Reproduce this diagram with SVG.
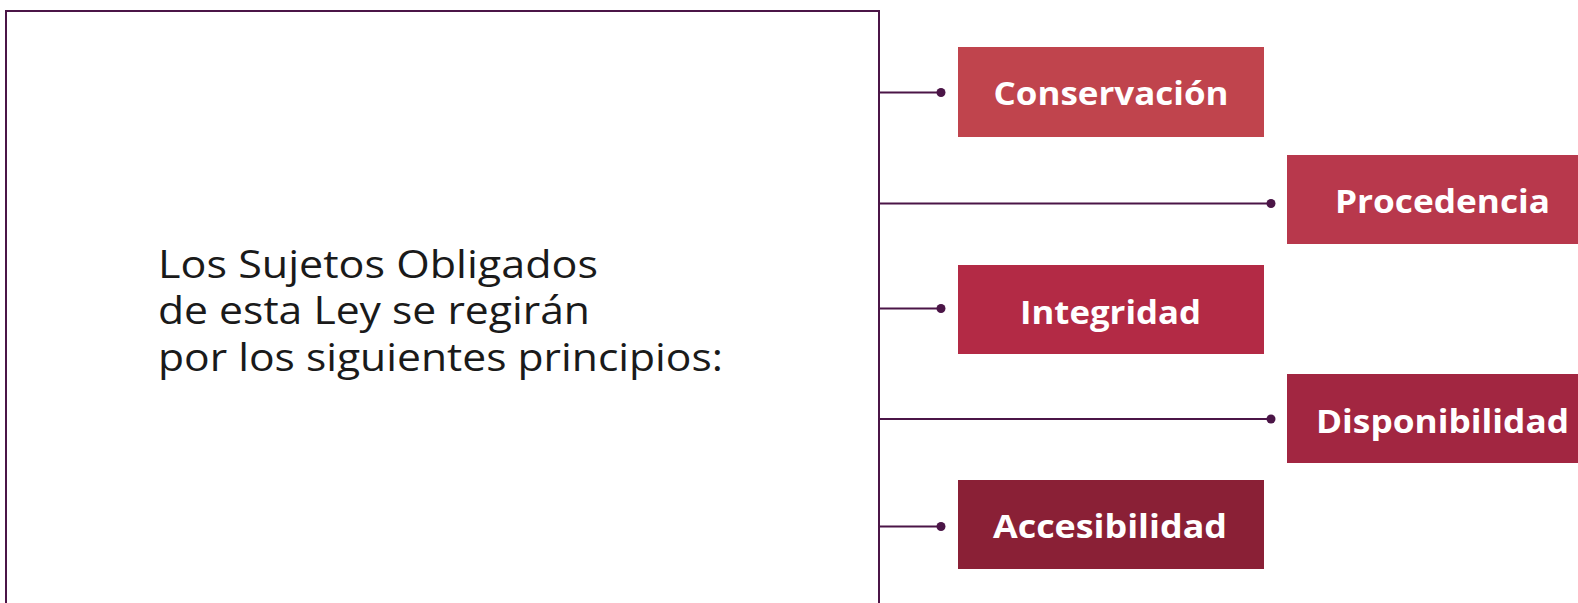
<svg xmlns="http://www.w3.org/2000/svg" width="1578" height="603" viewBox="0 0 1578 603">
<style>
.ln{stroke:#4B1547;stroke-width:2;fill:none}
.dot{fill:#4B1547}
.lbl{font-family:"Open Sans","Noto Sans","Liberation Sans",sans-serif;font-weight:700;font-size:32px;fill:#ffffff;text-anchor:middle}
.main{font-family:"Open Sans","Noto Sans","Liberation Sans",sans-serif;font-weight:400;font-size:39px;fill:#1a1a1a}
</style>
<rect width="1578" height="603" fill="#ffffff"/>
<g id="main">
<rect x="6" y="11" width="873" height="620" class="ln"/>
<text class="main" x="158" y="277.5" textLength="440" lengthAdjust="spacingAndGlyphs">Los Sujetos Obligados</text>
<text class="main" x="158" y="324" textLength="432" lengthAdjust="spacingAndGlyphs">de esta Ley se regirán</text>
<text class="main" x="158" y="371" textLength="565" lengthAdjust="spacingAndGlyphs">por los siguientes principios:</text>
</g>
<g id="connectors">
<line class="ln" x1="879" y1="92.5" x2="941" y2="92.5"/><circle class="dot" cx="941" cy="92.5" r="4.5"/>
<line class="ln" x1="879" y1="203.5" x2="1271" y2="203.5"/><circle class="dot" cx="1271" cy="203.5" r="4.5"/>
<line class="ln" x1="879" y1="308.5" x2="941" y2="308.5"/><circle class="dot" cx="941" cy="308.5" r="4.5"/>
<line class="ln" x1="879" y1="419" x2="1271" y2="419"/><circle class="dot" cx="1271" cy="419" r="4.5"/>
<line class="ln" x1="879" y1="526.5" x2="941" y2="526.5"/><circle class="dot" cx="941" cy="526.5" r="4.5"/>
</g>
<g id="conservacion">
<rect x="958" y="47" width="306" height="90" fill="#C0444D"/>
<text class="lbl" x="1111" y="105" textLength="235" lengthAdjust="spacingAndGlyphs">Conservación</text>
</g>
<g id="procedencia">
<rect x="1287" y="155" width="306" height="89" fill="#B8384C"/>
<text class="lbl" x="1442.5" y="213" textLength="215" lengthAdjust="spacingAndGlyphs">Procedencia</text>
</g>
<g id="integridad">
<rect x="958" y="265" width="306" height="89" fill="#B32A45"/>
<text class="lbl" x="1110.5" y="324" textLength="181" lengthAdjust="spacingAndGlyphs">Integridad</text>
</g>
<g id="disponibilidad">
<rect x="1287" y="374" width="306" height="89" fill="#A22641"/>
<text class="lbl" x="1442.5" y="432.5" textLength="253" lengthAdjust="spacingAndGlyphs">Disponibilidad</text>
</g>
<g id="accesibilidad">
<rect x="958" y="480" width="306" height="89" fill="#8A2036"/>
<text class="lbl" x="1110" y="538" textLength="234" lengthAdjust="spacingAndGlyphs">Accesibilidad</text>
</g>
</svg>
